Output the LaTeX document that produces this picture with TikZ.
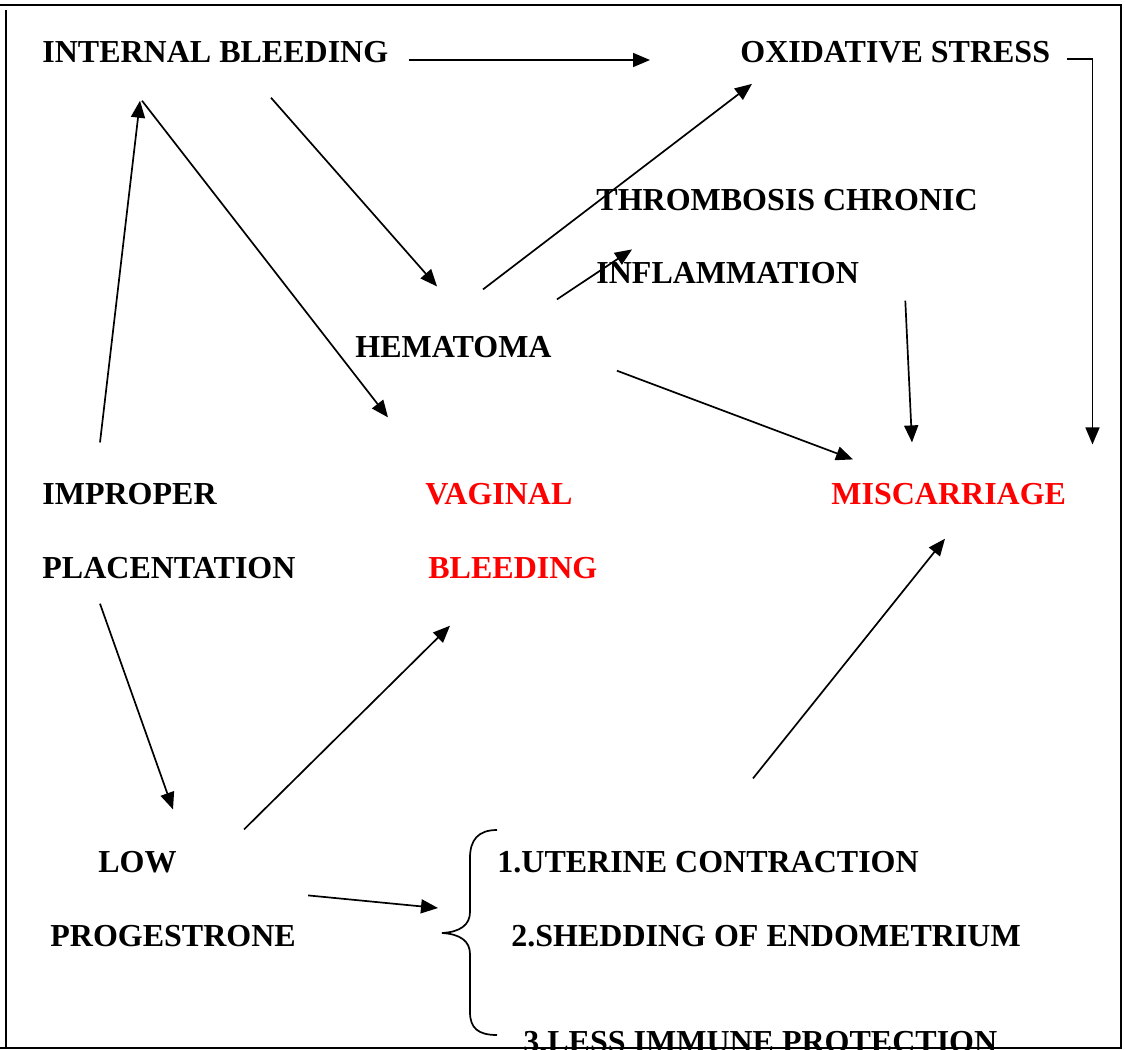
\documentclass[tikz,border=0pt]{standalone}
\usepackage{fontspec}
\setmainfont{Liberation Serif}
\usetikzlibrary{arrows.meta}
\definecolor{hot}{RGB}{255,0,0}

\begin{document}
\begin{tikzpicture}[x=0.5pt, y=-0.5pt,
  txt/.style={anchor=base west, inner sep=0pt, font=\fontsize{16}{19}\selectfont\bfseries},
  redtxt/.style={txt, text=hot},
  arr/.style={line width=0.85pt, -{Triangle[length=8.5pt,width=7pt]}}]
\clip (0,0) rectangle (1125,1050);

% labels
\node[txt] (ib) at (42,62) {INTERNAL BLEEDING};
\node[txt] (ox) at (740,62) {OXIDATIVE STRESS};
\node[txt] (th) at (596,210) {THROMBOSIS CHRONIC};
\node[txt] (in) at (596,283) {INFLAMMATION};
\node[txt] (he) at (355,357) {HEMATOMA};
\node[txt] (im) at (42,504) {IMPROPER};
\node[txt] (pl) at (42,578) {PLACENTATION};
\node[redtxt] (va) at (425,504) {VAGINAL};
\node[redtxt] (bl) at (428,578) {BLEEDING};
\node[redtxt] (mi) at (831,504) {MISCARRIAGE};
\node[txt] (lo) at (98,872) {LOW};
\node[txt] (pr) at (50,946) {PROGESTRONE};
\node[txt] (u1) at (497,872) {1.UTERINE CONTRACTION};
\node[txt] (u2) at (511,946) {2.SHEDDING OF ENDOMETRIUM};
\node[txt] (u3) at (523,1052) {3.LESS IMMUNE PROTECTION};

% brace
\coordinate (br) at (442,933);
\begin{scope}[shift={(br)}]
\draw[line width=0.85pt] (55,-103) .. controls (36,-103) and (28,-93) .. (28,-75)
  -- (28,-21) .. controls (28,-8) and (18,-1) .. (0,0)
  .. controls (18,1) and (28,8) .. (28,21)
  -- (28,79) .. controls (28,95) and (36,102) .. (55,102);
\end{scope}

% arrows
\draw[arr] ([shift={(20,-2)}]ib.base east) -- ([shift={(-90,-2)}]ox.base west);
\draw[arr] ([shift={(16,-3)}]ox.base east) -| ([shift={(26,-38)}]mi.north east);
\draw[arr] ([shift={(58,-40)}]im.north west) -- ([shift={(98,38)}]ib.south west);
\draw[arr] ([shift={(100,38)}]ib.south west) -- ([shift={(-37,-65)}]va.north west);
\draw[arr] ([shift={(229,35)}]ib.south west) -- ([shift={(82,-49)}]he.north west);
\draw[arr] ([shift={(128,-46)}]he.north west) -- ([shift={(12,21)}]ox.south west);
\draw[arr] ([shift={(5,-36)}]he.north east) -- ([shift={(36,-12)}]in.north west);
\draw[arr] ([shift={(46,17)}]in.south east) -- ([shift={(81,-40)}]mi.north west);
\draw[arr] ([shift={(65,13)}]he.south east) -- ([shift={(22,-23)}]mi.north west);
\draw[arr] ([shift={(58,25)}]pl.south west) -- ([shift={(75,-41)}]lo.north west);
\draw[arr] ([shift={(67,-21)}]lo.north east) -- ([shift={(22,47)}]bl.south west);
\draw[arr] ([shift={(256,-72)}]u1.north west) -- ([shift={(114,34)}]mi.south west);
\draw[arr] ([shift={(12,-29)}]pr.north east) -- ([shift={(-73,-38)}]u2.base west);

% frame
\draw[line width=1pt] (0,5) -- (1121,5) -- (1121,1048) -- (0,1048);
\draw[line width=1pt] (6,10) -- (6,1048);
\end{tikzpicture}
\end{document}
